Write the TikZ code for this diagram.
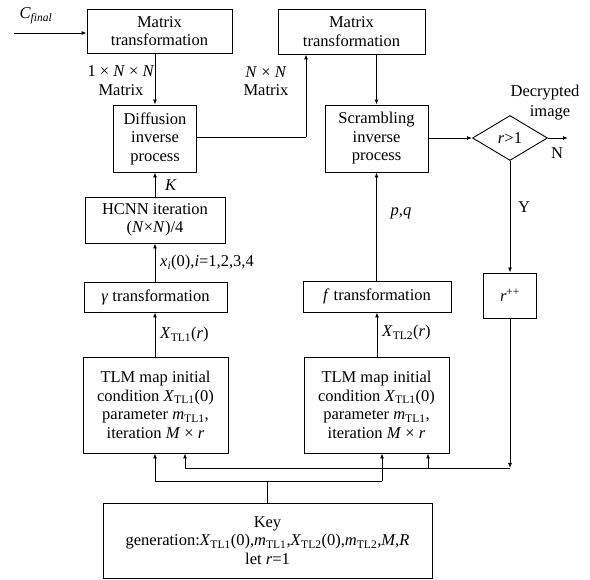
\documentclass[tikz,border=0pt]{standalone}
\usepackage{fontspec}
\setmainfont{Liberation Serif}
\usetikzlibrary{arrows.meta,shapes.geometric}
\newcommand{\ivar}[1]{\textit{#1}}
\newcommand{\tl}[1]{\textsubscript{TL#1}}
\begin{document}
\begin{tikzpicture}[x=1pt,y=-1pt,
  font=\fontsize{16.5}{18.5}\selectfont,
  box/.style={draw, line width=0.9pt, align=center, inner sep=0pt, anchor=center},
  lbl/.style={inner sep=0pt, anchor=center},
  conn/.style={draw, line width=0.9pt},
  arr/.style={conn, -{Latex[length=5pt,width=4pt]}}]
\useasboundingbox (0,0) rectangle (590,580);
% boxes
\node[box, minimum width=145pt, minimum height=44pt] (m1) at (159.5,31) {Matrix\\transformation};
\node[box, minimum width=147pt, minimum height=45pt] (m2) at (351.5,31.5) {Matrix\\transformation};
\node[box, minimum width=83pt, minimum height=67pt] (diff) at (155,138.5) {Diffusion\\inverse\\process};
\node[box, minimum width=103pt, minimum height=67pt] (scr) at (376.5,138.5) {Scrambling\\inverse\\process};
\node[box, shape=diamond, minimum width=75pt, minimum height=45pt] (dia) at (510,138) {\ivar{r}>1};
\node[box, minimum width=140pt, minimum height=46pt] (hcnn) at (155,220) {HCNN iteration\\(\ivar{N}×\ivar{N})/4};
\node[box, minimum width=143pt, minimum height=30pt] (gam) at (155.5,297) {\ivar{γ} transformation};
\node[box, minimum width=148pt, minimum height=31pt] (ftr) at (377,296.5) {\ivar{f} transformation};
\node[box, minimum width=53pt, minimum height=45pt] (rpp) at (510,295.5) {\ivar{r}\textsuperscript{++}};
\node[box, minimum width=145pt, minimum height=96pt] (tlm1) at (155.5,405) {TLM map initial\\condition \ivar{X}\tl{1}(0)\\parameter \ivar{m}\tl{1},\\iteration \ivar{M} × \ivar{r}};
\node[box, minimum width=145pt, minimum height=96pt] (tlm2) at (376.5,405) {TLM map initial\\condition \ivar{X}\tl{1}(0)\\parameter \ivar{m}\tl{1},\\iteration \ivar{M} × \ivar{r}};
\node[box, minimum width=329pt, minimum height=75pt] (key) at (267.5,540.5) {Key\\generation:\ivar{X}\tl{1}(0),\ivar{m}\tl{1},\ivar{X}\tl{2}(0),\ivar{m}\tl{2},\ivar{M},\ivar{R}\\let \ivar{r}=1};
% coordinates
\coordinate (cin) at (14,33);
\coordinate (dm) at (306,137);
\coordinate (nout) at (568,138);
\coordinate (kb) at (267,481);
\coordinate (kl) at (155,481);
\coordinate (kr) at (382,481);
\coordinate (rb) at (510,468);
\coordinate (rl) at (185,468);
\coordinate (rm) at (428,468);
% connectors
\draw[arr] (cin) -- (cin -| m1.west);
\draw[arr] (m1.south -| 155,0) -- (diff.north);
\draw[conn] (diff.east |- dm) -- (dm);
\draw[arr] (dm) -- (dm |- m2.south);
\draw[arr] (m2.south -| 376.5,0) -- (scr.north);
\draw[arr] (scr.east |- dia.west) -- (dia.west);
\draw[arr] (dia.east) -- (nout);
\draw[arr] (dia.south) -- (rpp.north);
\draw[arr] (hcnn.north -| diff.south) -- (diff.south);
\draw[arr] (gam.north -| hcnn.south) -- (hcnn.south);
\draw[arr] (tlm1.north -| 155,0) -- (gam.south -| 155,0);
\draw[arr] (ftr.north -| scr.south) -- (scr.south);
\draw[arr] (tlm2.north -| ftr.south) -- (ftr.south);
\draw[conn] (key.north -| kb) -- (kb);
\draw[conn] (kl) -- (kr);
\draw[arr] (kl) -- (kl |- tlm1.south);
\draw[arr] (kr) -- (kr |- tlm2.south);
\draw[arr] (rpp.south) -- (rb);
\draw[conn] (rb) -- (rl);
\draw[arr] (rl) -- (rl |- tlm1.south);
\draw[arr] (rm) -- (rm |- tlm2.south);
% labels
\node[lbl] (lc) at (36,16) {\ivar{C}\textsubscript{\itshape final}};
\node[lbl] (l1) at (121,71) {1 × \ivar{N} × \ivar{N}};
\node[lbl] (l2) at (121,90) {Matrix};
\node[lbl] (l3) at (266,72) {\ivar{N} × \ivar{N}};
\node[lbl] (l4) at (266,90) {Matrix};
\node[lbl] (lk) at (171,185) {\ivar{K}};
\node[lbl, anchor=west] (lx) at (160,263) {\ivar{x}\textsubscript{\itshape i}(0),\ivar{i}=1,2,3,4};
\node[lbl, anchor=west] (lx1) at (160,335) {\ivar{X}\tl{1}(\ivar{r})};
\node[lbl, anchor=west] (lx2) at (382,333) {\ivar{X}\tl{2}(\ivar{r})};
\node[lbl] (lpq) at (401,213) {\ivar{p},\ivar{q}};
\node[lbl] (ly) at (524,207) {Y};
\node[lbl] (ln) at (557,153) {N};
\node[lbl] (ld1) at (545,93) {Decrypted};
\node[lbl] (ld2) at (550,113) {image};
\end{tikzpicture}
\end{document}
